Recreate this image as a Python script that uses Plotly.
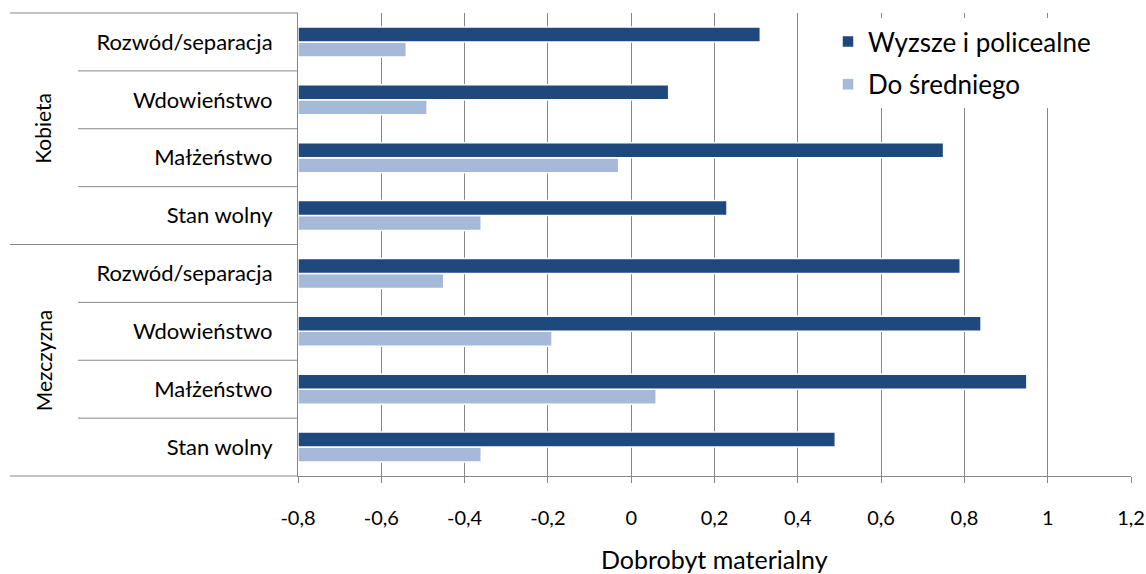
import plotly.graph_objects as go

# ---- data ----
groups = ["Kobieta", "Mezczyzna"]
statuses = ["Rozwód/separacja", "Wdowieństwo", "Małżeństwo", "Stan wolny"]
wyzsze = [0.31, 0.09, 0.75, 0.23, 0.79, 0.84, 0.95, 0.49]   # Wyzsze i policealne
srednie = [-0.54, -0.49, -0.03, -0.36, -0.45, -0.19, 0.06, -0.36]  # Do średniego
series_names = ["Wyzsze i policealne", "Do średniego"]
tick_values = [-0.8, -0.6, -0.4, -0.2, 0, 0.2, 0.4, 0.6, 0.8, 1, 1.2]
tick_labels = ["-0,8", "-0,6", "-0,4", "-0,2", "0", "0,2", "0,4", "0,6", "0,8", "1", "1,2"]
x_title = "Dobrobyt materialny"

# ---- style ----
FONT = "Lato"
DARK = "#1F497D"
LIGHT = "#A7B9D8"
GRID = "#878787"
W, H = 1146, 574
ML, MR, MT, MB = 298, 15, 13, 98
axis_min, axis_max = tick_values[0], tick_values[-1]

labels = [s for g in groups for s in statuses]
n = len(labels)
ypos = list(range(n - 1, -1, -1))

fig = go.Figure()
fig.add_trace(go.Bar(
    y=ypos, x=[v - axis_min for v in srednie], base=axis_min, orientation="h",
    name=series_names[1], legendgroup="b", legendrank=2,
    marker=dict(color=LIGHT, line=dict(color="white", width=1.5)),
    customdata=srednie, hovertemplate="%{customdata}<extra>" + series_names[1] + "</extra>",
))
fig.add_trace(go.Bar(
    y=ypos, x=[v - axis_min for v in wyzsze], base=axis_min, orientation="h",
    name=series_names[0], legendgroup="a", legendrank=1,
    marker=dict(color=DARK, line=dict(color="white", width=1.5)),
    customdata=wyzsze, hovertemplate="%{customdata}<extra>" + series_names[0] + "</extra>",
))

pw = W - ML - MR
ph = H - MT - MB
shapes = []
for k in range(1, n + 1):
    full = (k % len(statuses) == 0)
    x0 = (10 - ML) / pw if full else (78 - ML) / pw
    shapes.append(dict(type="line", xref="paper", yref="paper", x0=x0, x1=0,
                       y0=k / n, y1=k / n, line=dict(color=GRID, width=1)))
# extend bottom axis line to the left
shapes.append(dict(type="line", xref="paper", yref="paper", x0=(10 - ML) / pw, x1=0,
                   y0=0, y1=0, line=dict(color=GRID, width=1)))

annotations = []
for gi, g in enumerate(groups):
    yc = 1 - (gi + 0.5) / len(groups)
    annotations.append(dict(text=g, xref="paper", yref="paper", x=(43 - ML) / pw, y=yc,
                            textangle=-90, showarrow=False, xanchor="center", yanchor="middle",
                            font=dict(family=FONT, size=21, color="#000000")))
annotations.append(dict(text=x_title, xref="paper", yref="paper", x=(714 - ML) / pw,
                        y=-(559 - (H - MB)) / ph,
                        showarrow=False, xanchor="center", yanchor="middle",
                        font=dict(family=FONT, size=25, color="#000000")))

fig.update_layout(
    width=W, height=H,
    margin=dict(l=ML, r=MR, t=MT, b=MB, autoexpand=False),
    paper_bgcolor="white", plot_bgcolor="white",
    barmode="group", bargap=0.48, bargroupgap=0.0,
    font=dict(family=FONT, size=20, color="#000000"),
    showlegend=True,
    legend=dict(x=(828 - ML) / pw, y=1 - (18 - MT) / ph, xanchor="left", yanchor="top",
                bgcolor="white", font=dict(family=FONT, size=26, color="#000000"),
                tracegroupgap=6, traceorder="grouped"),
    xaxis=dict(range=[axis_min, axis_max], tickvals=tick_values, ticktext=tick_labels,
               automargin=False,
               showgrid=True, gridcolor=GRID, gridwidth=1, zeroline=False,
               showline=True, linecolor=GRID, linewidth=1,
               ticks="outside", ticklen=6, tickcolor=GRID,
               ticklabelstandoff=18, tickfont=dict(family=FONT, size=20, color="#000000")),
    yaxis=dict(range=[-0.5, n - 0.5], tickvals=ypos, ticktext=labels,
               automargin=False,
               showgrid=False, zeroline=False, showline=True, linecolor=GRID, linewidth=1,
               ticks="", ticklabelstandoff=20,
               tickfont=dict(family=FONT, size=22, color="#000000")),
    shapes=shapes, annotations=annotations,
)

fig.write_html(
    "out.html",
    config={"responsive": False, "displayModeBar": False},
    post_script="document.body.style.margin='0';document.body.style.overflow='hidden';"
                "document.documentElement.style.overflow='hidden';",
)
